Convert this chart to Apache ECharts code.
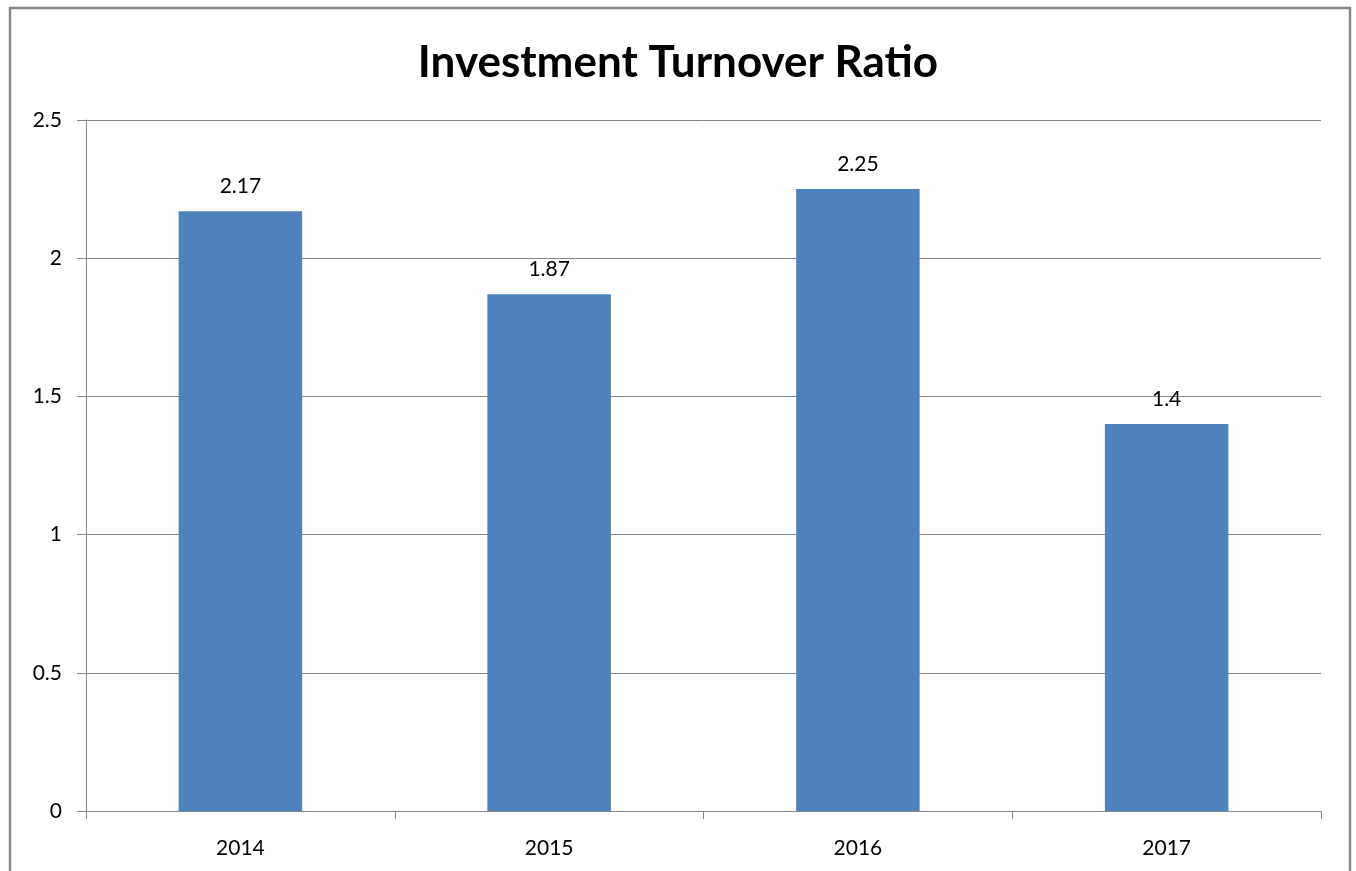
<!DOCTYPE html>
<html>
<head>
<meta charset="utf-8">
<script src="https://cdn.jsdelivr.net/npm/echarts@6/dist/echarts.min.js"></script>
<style>
html, body { margin: 0; padding: 0; background: #fff; }
#main { width: 1356px; height: 871px; }
</style>
</head>
<body>
<div id="main"></div>
<script>
const years = ['2014', '2015', '2016', '2017'];
const ratios = [2.17, 1.87, 2.25, 1.4];
const yTicks = [0, 0.5, 1, 1.5, 2, 2.5];

let myChart = echarts.init(document.getElementById('main'));
let font = 'Lato, "Open Sans", sans-serif';
let option = {
	animation: false,
	title: {
		text: 'Investment Turnover Ratio',
		left: 'center',
		top: 36,
		textStyle: { fontFamily: font, fontSize: 44, fontWeight: 'bold', color: '#000' }
	},
	graphic: [{
		type: 'rect',
		shape: { x: 10, y: 8, width: 1340, height: 900 },
		style: { fill: 'none', stroke: '#868686', lineWidth: 2.5 },
		silent: true
	}],
	grid: { left: 86, right: 35, top: 120, bottom: 60 },
	xAxis: {
		type: 'category',
		data: years,
		axisLine: { lineStyle: { color: '#868686', width: 1 } },
		axisTick: { show: true, alignWithLabel: false, length: 8, lineStyle: { color: '#868686' } },
		axisLabel: { fontFamily: font, fontSize: 21, color: '#000', margin: 27 }
	},
	yAxis: {
		type: 'value',
		min: yTicks[0],
		max: yTicks[yTicks.length - 1],
		interval: 0.5,
		axisLine: { show: true, lineStyle: { color: '#868686', width: 1 } },
		axisTick: { show: true, length: 9, lineStyle: { color: '#868686' } },
		axisLabel: { fontFamily: font, fontSize: 21, color: '#000', margin: 24 },
		splitLine: { lineStyle: { color: '#868686', width: 1 } }
	},
	series: [{
		type: 'bar',
		data: ratios,
		barWidth: '40%',
		itemStyle: { color: '#4F81BD' },
		label: {
			show: true,
			position: 'top',
			distance: 14,
			fontFamily: font,
			fontSize: 21,
			color: '#000'
		}
	}]
};
myChart.setOption(option);
</script>
</body>
</html>
